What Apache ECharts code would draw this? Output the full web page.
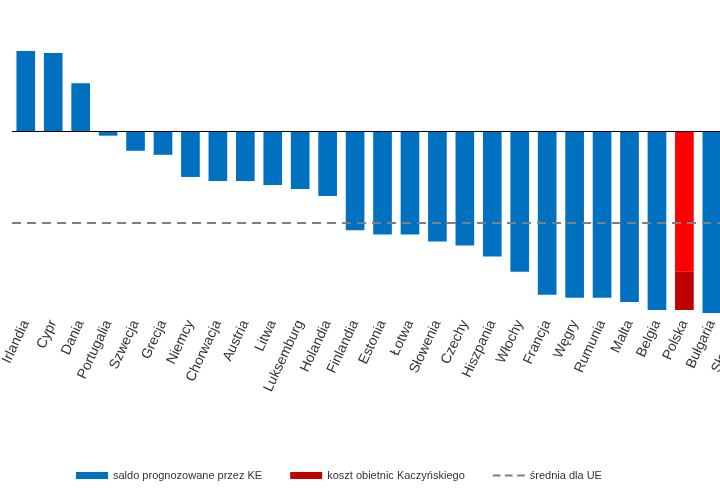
<!DOCTYPE html>
<html>
<head>
<meta charset="utf-8">
<script src="https://cdn.jsdelivr.net/npm/echarts@6/dist/echarts.min.js"></script>
<style>
html,body{margin:0;padding:0;overflow:hidden;background:#fff;}
#chart{position:absolute;left:-1px;top:0;width:754px;height:500px;}
</style>
</head>
<body>
<div id="chart"></div>
<script>
var countries = ['Irlandia', 'Cypr', 'Dania', 'Portugalia', 'Szwecja', 'Grecja', 'Niemcy', 'Chorwacja', 'Austria',
    'Litwa', 'Luksemburg', 'Holandia', 'Finlandia', 'Estonia', 'Łotwa', 'Słowenia', 'Czechy', 'Hiszpania', 'Włochy',
    'Francja', 'Węgry', 'Rumunia', 'Malta', 'Belgia', 'Polska', 'Bułgaria', 'Słowacja'];
var saldo = [2.0, 1.95, 1.2, -0.1, -0.475, -0.575, -1.125, -1.225, -1.225, -1.325, -1.425, -1.6, -2.45, -2.55, -2.55,
    -2.725, -2.825, -3.1, -3.475, -4.05, -4.125, -4.125, -4.225, -4.425, '-', -4.5, -4.6];
var kosztTop = ['-', '-', '-', '-', '-', '-', '-', '-', '-', '-', '-', '-', '-', '-', '-', '-', '-', '-', '-', '-', '-', '-', '-', '-', -3.475, '-', '-'];
var kosztBottom = ['-', '-', '-', '-', '-', '-', '-', '-', '-', '-', '-', '-', '-', '-', '-', '-', '-', '-', '-', '-', '-', '-', '-', '-', -0.95, '-', '-'];
var sredniaUE = -2.275;

var chart = echarts.init(document.getElementById('chart'));
var dashIcon = 'path://M0,0h7v2h-7z M11,0h7v2h-7z M22,0h7v2h-7z';
chart.setOption({
    animation: false,
    grid: { left: 0, right: 0, top: 47, bottom: 185 },
    legend: {
        bottom: 14,
        left: 72,
        itemWidth: 32,
        itemHeight: 7,
        itemGap: 28,
        textStyle: { fontFamily: 'Liberation Sans', fontSize: 11, color: '#333' },
        data: [
            { name: 'saldo prognozowane przez KE', icon: 'rect', itemStyle: { color: '#0070C0' } },
            { name: 'koszt obietnic Kaczyńskiego', icon: 'rect', itemStyle: { color: '#C00000' } },
            { name: 'średnia dla UE', icon: dashIcon }
        ]
    },
    xAxis: {
        type: 'category',
        data: countries,
        position: 'bottom',
        axisLine: { show: false },
        axisTick: { show: false },
        axisLabel: {
            rotate: 65, interval: 0, margin: 6,
            fontFamily: 'Liberation Sans', fontSize: 14, color: '#333'
        }
    },
    yAxis: {
        type: 'value', min: -4.55, max: 2.1, show: false, splitLine: { show: false }
    },
    series: [
        {
            name: 'saldo prognozowane przez KE', type: 'bar', stack: 'a', barWidth: '68%',
            data: saldo, itemStyle: { color: '#0070C0' },
            markLine: {
                silent: true, symbol: 'none', label: { show: false },
                lineStyle: { color: '#000', type: 'solid', width: 1 },
                data: [{ yAxis: 0 }]
            }
        },
        {
            name: 'koszt obietnic Kaczyńskiego', type: 'bar', stack: 'a',
            data: kosztTop, itemStyle: { color: '#FF0000' }
        },
        {
            name: 'koszt dół', type: 'bar', stack: 'a',
            data: kosztBottom, itemStyle: { color: '#C00000' }
        },
        {
            name: 'średnia dla UE', type: 'line', data: [], z: 5,
            itemStyle: { color: '#7F7F7F' }, lineStyle: { color: '#7F7F7F', type: 'dashed' },
            markLine: {
                silent: true, symbol: 'none', label: { show: false }, z: 10,
                lineStyle: { color: '#7F7F7F', type: [9, 6], width: 2 },
                data: [{ yAxis: sredniaUE }]
            }
        }
    ]
});
</script>
</body>
</html>
